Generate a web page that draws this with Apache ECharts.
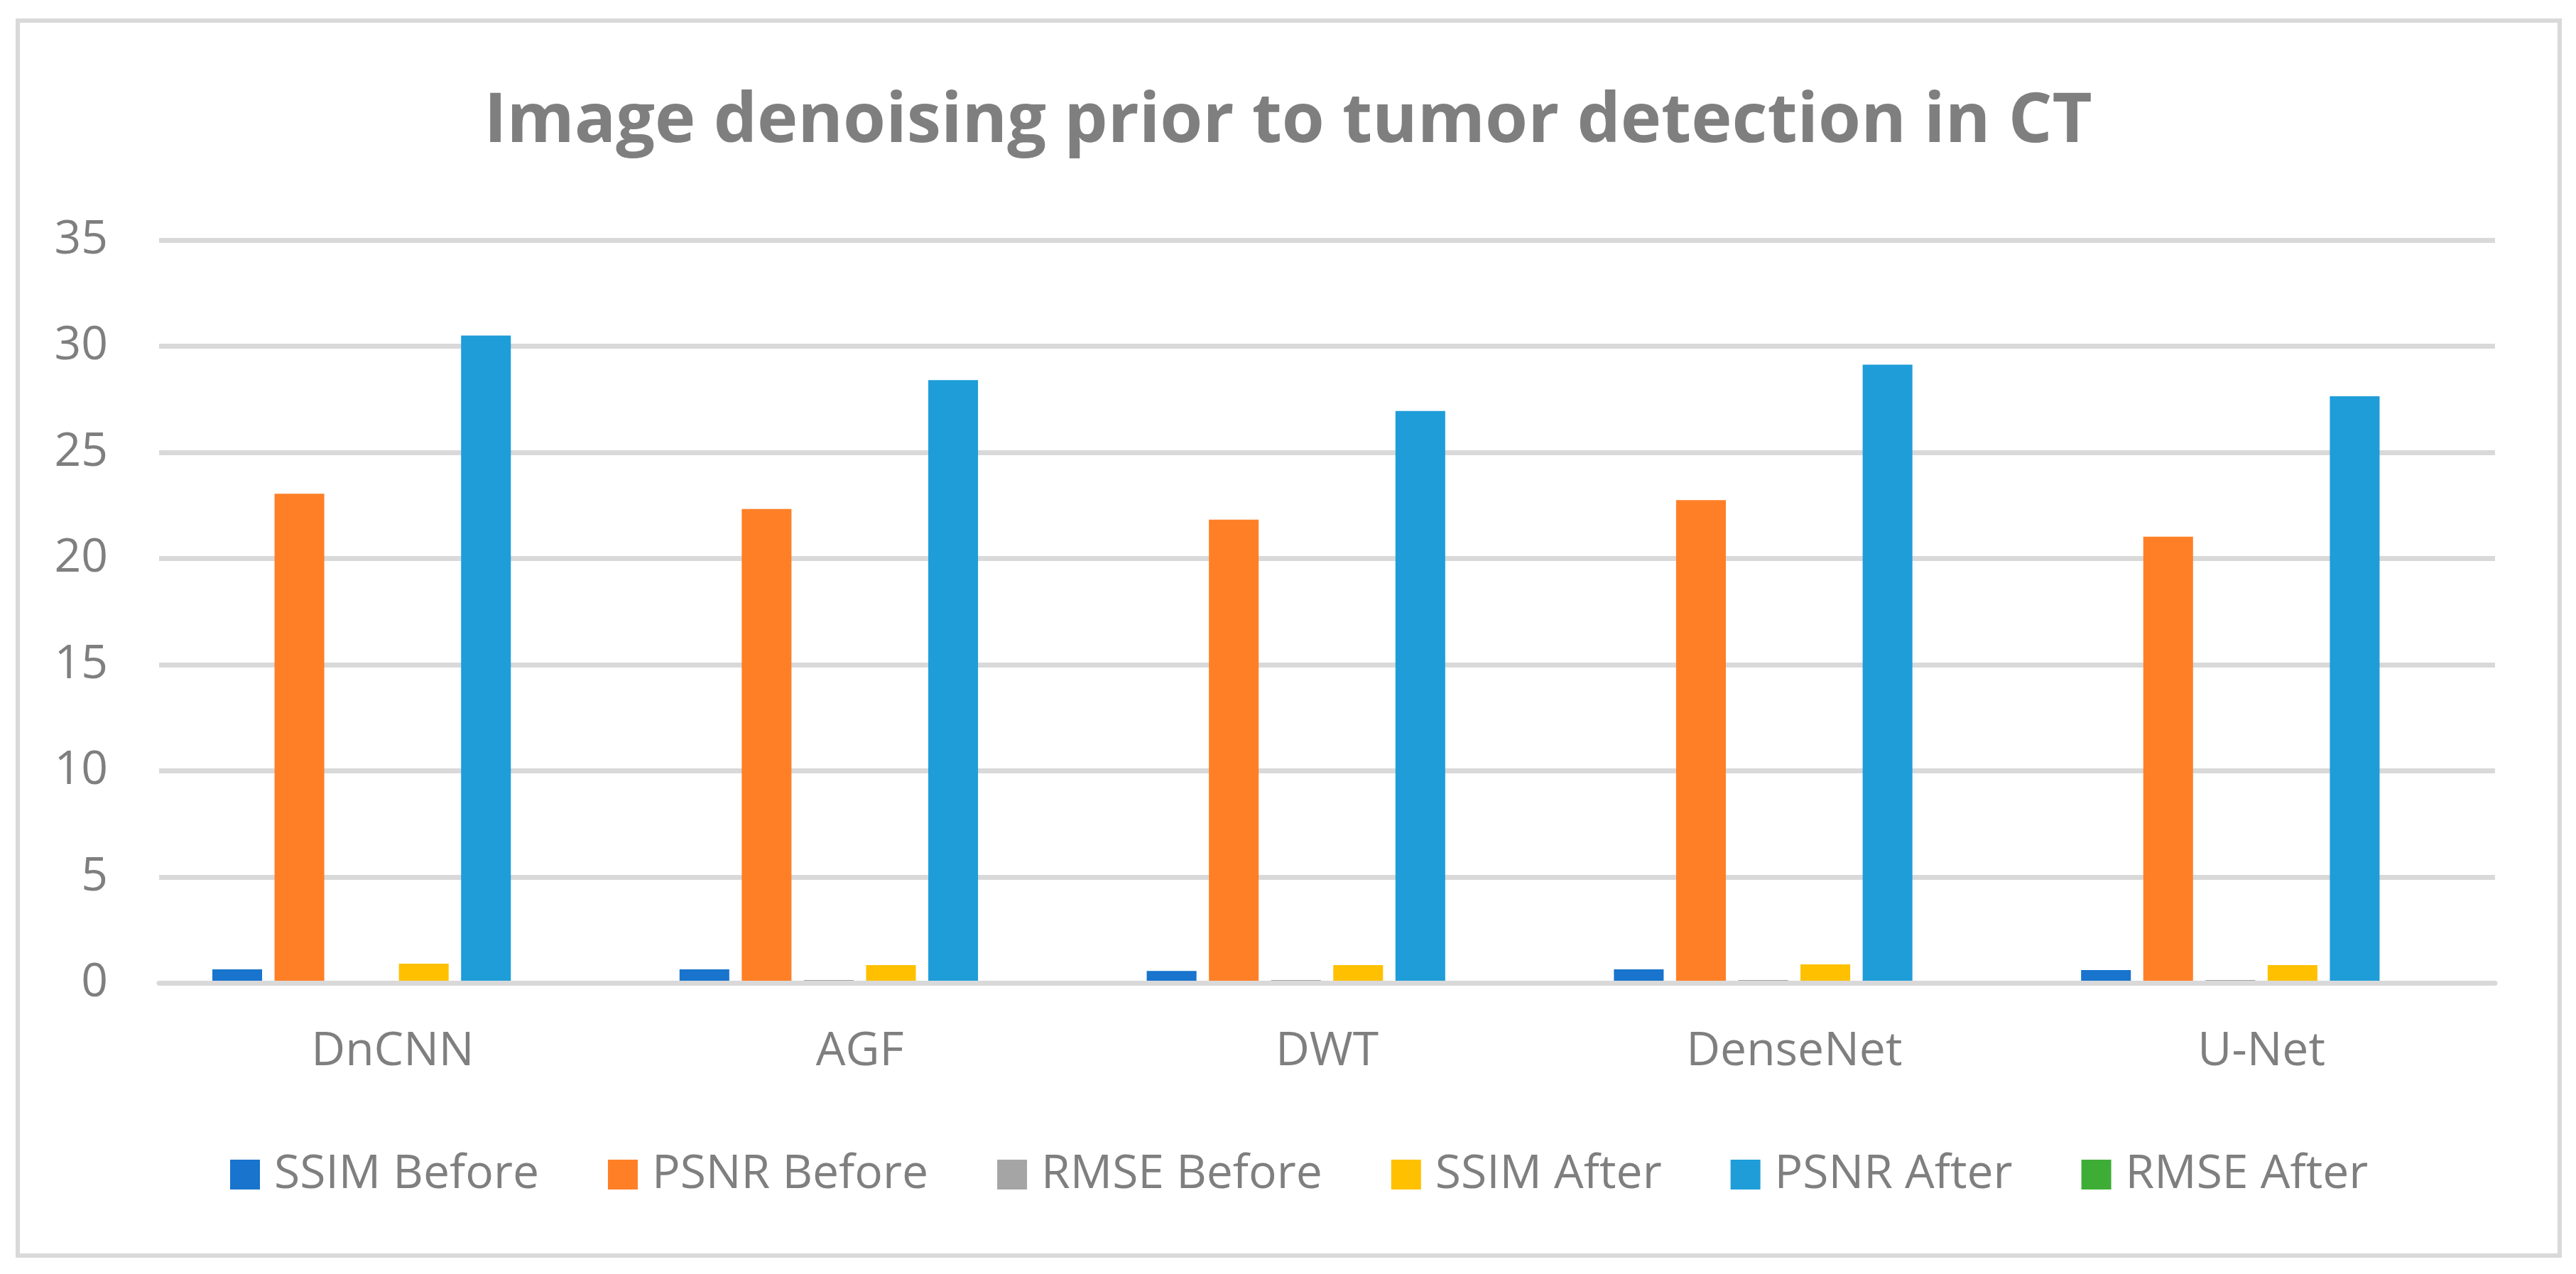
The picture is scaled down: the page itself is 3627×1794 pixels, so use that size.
<!DOCTYPE html>
<html>
<head>
<meta charset="utf-8">
<title>Image denoising prior to tumor detection in CT</title>
<script src="https://cdn.jsdelivr.net/npm/echarts@6/dist/echarts.min.js"></script>
<style>
  html, body { margin: 0; padding: 0; background: #fff; }
  #chart { width: 3627px; height: 1794px; }
</style>
</head>
<body>
<div id="chart"></div>
<script>
// 数据
var categories = ['DnCNN', 'AGF', 'DWT', 'DenseNet', 'U-Net'];
var seriesNames = ['SSIM Before', 'PSNR Before', 'RMSE Before', 'SSIM After', 'PSNR After', 'RMSE After'];
var ssimBefore = [0.65, 0.65, 0.58, 0.65, 0.62];
var psnrBefore = [23.05, 22.33, 21.83, 22.75, 21.03];
var rmseBefore = [0.03, 0.15, 0.15, 0.15, 0.15];
var ssimAfter = [0.92, 0.85, 0.85, 0.89, 0.85];
var psnrAfter = [30.5, 28.4, 26.95, 29.13, 27.64];
var rmseAfter = [0.02, 0.02, 0.02, 0.02, 0.02];
var colors = ['#1874cd', '#ff7f27', '#a5a5a5', '#ffc000', '#1e9dd9', '#3ead36'];

var textColor = '#7f7f7f';
var gridColor = '#d9d9d9';
var font = '"Open Sans", "Noto Sans", sans-serif';

var allData = [ssimBefore, psnrBefore, rmseBefore, ssimAfter, psnrAfter, rmseAfter];
var series = allData.map(function (d, i) {
    return {
        name: seriesNames[i],
        type: 'bar',
        data: d,
        barGap: '25%',
        barCategoryGap: '22.8%',
        itemStyle: { color: colors[i] }
    };
});

var chart = echarts.init(document.getElementById('chart'));
chart.setOption({
    animation: false,
    backgroundColor: '#fff',
    color: colors,
    textStyle: { fontFamily: font },
    title: {
        text: 'Image denoising prior to tumor detection in CT',
        left: 'center',
        top: 124,
        padding: 0,
        textStyle: {
            fontFamily: font,
            fontSize: 97,
            fontWeight: 'bold',
            color: textColor
        }
    },
    legend: {
        data: seriesNames,
        left: 324,
        top: 1621,
        icon: 'rect',
        itemWidth: 42,
        itemHeight: 42,
        itemGap: 97,
        padding: 0,
        textStyle: {
            fontFamily: font,
            fontSize: 66,
            color: textColor,
            padding: [0, 0, 0, 15]
        }
    },
    grid: {
        left: 224,
        right: 114,
        top: 338,
        bottom: 409.5,
        containLabel: false
    },
    xAxis: {
        type: 'category',
        data: categories,
        z: 3,
        axisTick: { show: false },
        axisLine: { show: true, lineStyle: { color: gridColor, width: 7 } },
        axisLabel: {
            margin: 64,
            fontFamily: font,
            fontSize: 66,
            color: textColor
        }
    },
    yAxis: {
        type: 'value',
        min: 0,
        max: 35,
        interval: 5,
        axisLine: { show: false },
        axisTick: { show: false },
        splitLine: { lineStyle: { color: gridColor, width: 7 } },
        axisLabel: {
            margin: 72,
            fontFamily: font,
            fontSize: 66,
            color: textColor
        }
    },
    graphic: [{
        type: 'rect',
        shape: { x: 25, y: 29, width: 3579, height: 1739 },
        style: { fill: 'none', stroke: gridColor, lineWidth: 6 },
        silent: true
    }],
    series: series
});
</script>
</body>
</html>
